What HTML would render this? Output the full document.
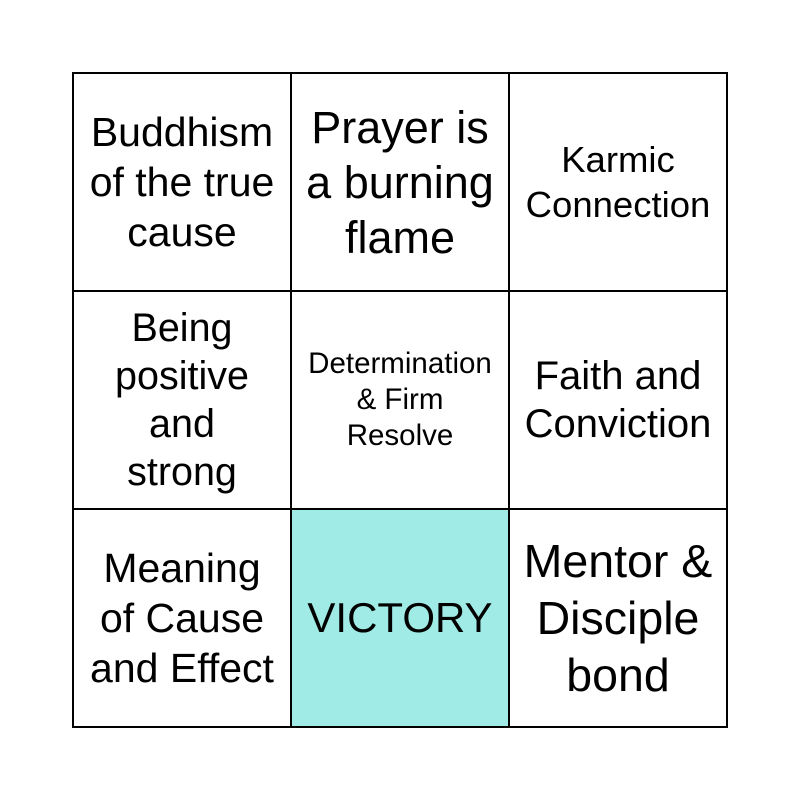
<!DOCTYPE html>
<html><head><meta charset="utf-8"><style>
html,body{margin:0;padding:0;background:#fff;width:800px;height:800px;overflow:hidden}
.grid{position:absolute;left:72px;top:72px;width:656px;height:656px;display:grid;grid-template-columns:218px 218px 218px;grid-template-rows:218px 218px 218px;border:1px solid #000;box-sizing:border-box}
.c{border:1px solid #000;display:flex;align-items:center;justify-content:center;text-align:center;font-family:"Liberation Sans",sans-serif;color:#000;box-sizing:border-box}
</style></head><body>
<div class="grid">
<div class="c" style="font-size:41px;line-height:50px">Buddhism<br>of the true<br>cause</div>
<div class="c" style="font-size:45px;line-height:55px">Prayer is<br>a burning<br>flame</div>
<div class="c" style="font-size:36.5px;line-height:45px">Karmic<br>Connection</div>
<div class="c" style="font-size:39.5px;line-height:48px">Being<br>positive<br>and<br>strong</div>
<div class="c" style="font-size:29.5px;line-height:36px">Determination<br>&amp; Firm<br>Resolve</div>
<div class="c" style="font-size:40px;line-height:48px">Faith and<br>Conviction</div>
<div class="c" style="font-size:41px;line-height:50px">Meaning<br>of Cause<br>and Effect</div>
<div class="c" style="font-size:42px;background:#a0ebe5">VICTORY</div>
<div class="c" style="font-size:46.5px;line-height:57px">Mentor &amp;<br>Disciple<br>bond</div>
</div>
</body></html>
